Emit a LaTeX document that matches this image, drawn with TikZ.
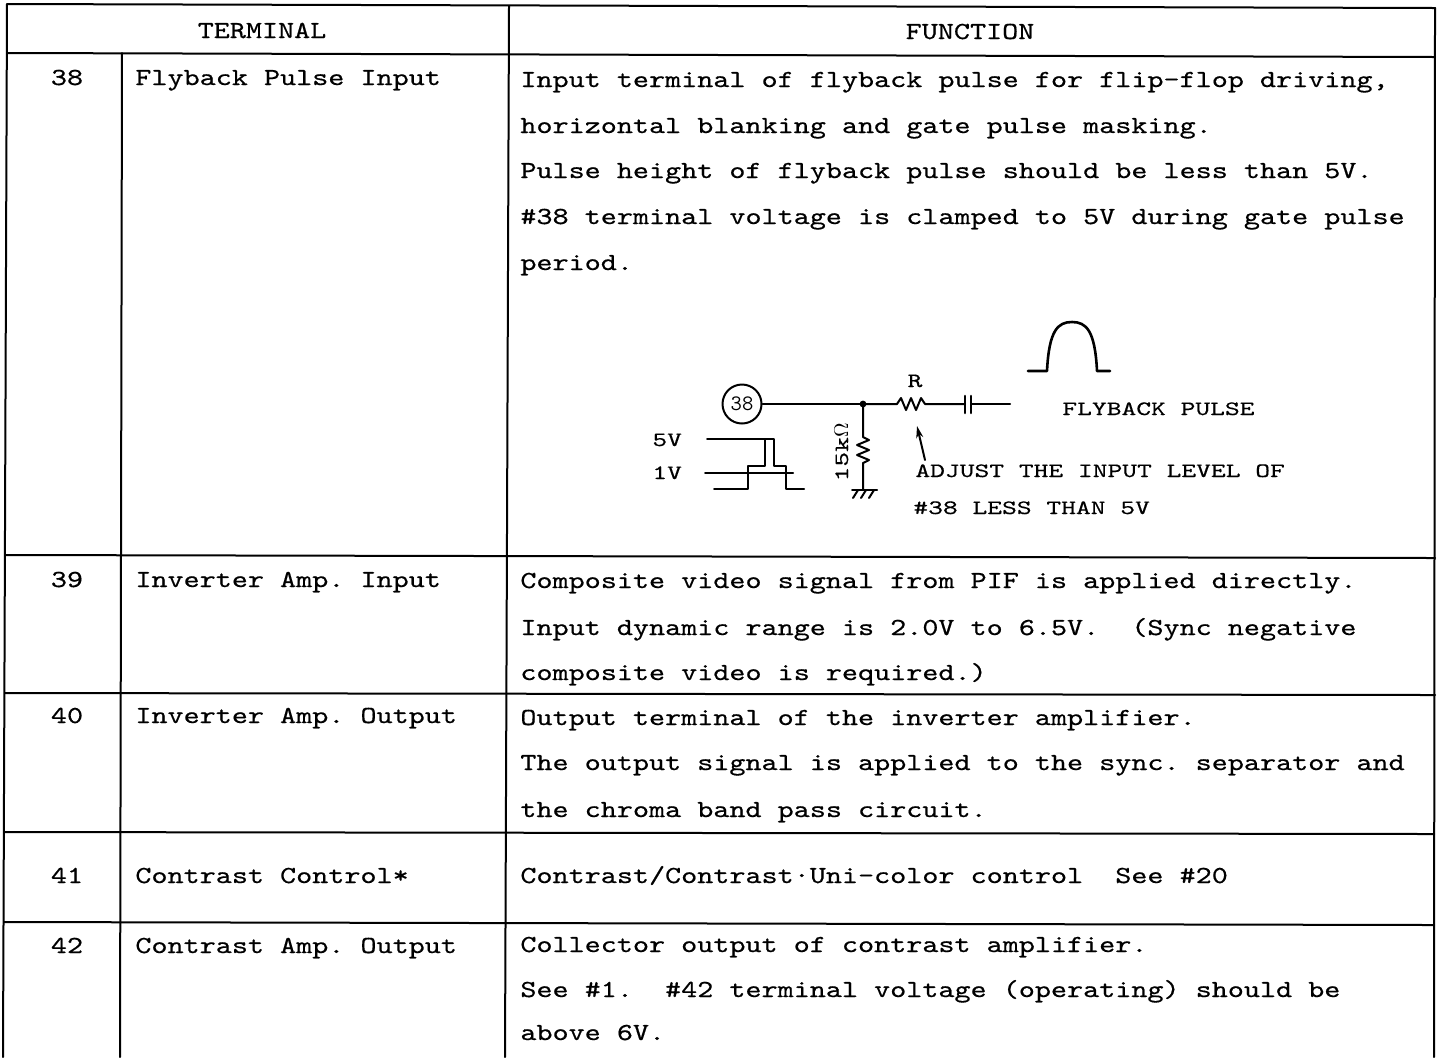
\documentclass[tikz,border=0pt]{standalone}
\usepackage{fontspec}
\newfontfamily\tw{lmmono10-regular.otf}[FakeStretch=1.25,FakeBold=0.5]
\newfontfamily\cf{lmmono10-regular.otf}[FakeStretch=1.38,FakeBold=0.4]
\usetikzlibrary{arrows.meta}
\frenchspacing
\begin{document}
\frenchspacing
\begin{tikzpicture}[x=0.5pt,y=-0.5pt,line cap=round,line join=round]
\tikzset{
  tl/.style={line width=1pt},
  wire/.style={line width=1pt},
  txt/.style={inner sep=0pt,anchor=base west,font=\tw\fontsize{12.25}{14}\selectfont\frenchspacing},
  num/.style={inner sep=0pt,anchor=base,font=\tw\fontsize{12.25}{14}\selectfont\frenchspacing},
  ctx/.style={inner sep=0pt,anchor=base west,font=\cf\fontsize{10.2}{12}\selectfont\frenchspacing},
}
\useasboundingbox[fill=white] (0,0) rectangle (1438,1057);
% table rules
\draw[tl] (7,4) -- (1435,8);
\draw[tl] (7,53) -- (1435,57);
\draw[tl] (6,555) -- (1435,558);
\draw[tl] (5,693) -- (1435,695);
\draw[tl] (4,832) -- (1434,834);
\draw[tl] (4,922) -- (1434,925);
\draw[tl] (7,4) -- (3,1057);
\draw[tl] (122,53) -- (120,1057);
\draw[tl] (509,6) -- (505,1057);
\draw[tl] (1435,8) -- (1434,1057);
% header
\node[num] (hterm) at (262,38) {TERMINAL};
\node[num] (hfunc) at (970,39) {FUNCTION};
% row 38
\node[num] (n38) at (67,85) {38};
\node[txt] (t38) at (135,85) {Flyback Pulse Input};
\node[txt] (f38a) at (520,87) {Input terminal of flyback pulse for flip-flop driving,};
\node[txt] (f38b) at (520,133) {horizontal blanking and gate pulse masking.};
\node[txt] (f38c) at (520,178) {Pulse height of flyback pulse should be less than 5V.};
\node[txt] (f38d) at (520,224) {\#38 terminal voltage is clamped to 5V during gate pulse};
\node[txt] (f38e) at (520,270) {period.};
% row 39
\node[num] (n39) at (67,587) {39};
\node[txt] (t39) at (135,587) {Inverter Amp. Input};
\node[txt] (f39a) at (520,588) {Composite video signal from PIF is applied directly.};
\node[txt] (f39b) at (520,635) {Input dynamic range is 2.0V to 6.5V.\ \ (Sync negative};
\node[txt] (f39c) at (520,680) {composite video is required.)};
% row 40
\node[num] (n40) at (67,723) {40};
\node[txt] (t40) at (135,723) {Inverter Amp. Output};
\node[txt] (f40a) at (520,725) {Output terminal of the inverter amplifier.};
\node[txt] (f40b) at (520,770) {The output signal is applied to the sync. separator and};
\node[txt] (f40c) at (520,817) {the chroma band pass circuit.};
% row 41
\node[num] (n41) at (67,883) {41};
\node[txt] (t41) at (135,883) {Contrast Control*};
\node[txt] (f41a) at (520,883) {Contrast/Contrast·Uni-color control\ \ See \#20};
% row 42
\node[num] (n42) at (67,953) {42};
\node[txt] (t42) at (135,953) {Contrast Amp. Output};
\node[txt] (f42a) at (520,952) {Collector output of contrast amplifier.};
\node[txt] (f42b) at (520,997) {See \#1.\ \ \#42 terminal voltage (operating) should be};
\node[txt] (f42c) at (520,1040) {above 6V.};
% circuit
\node[circle,draw,line width=1pt,minimum size=19.5pt,inner sep=0pt,
      font=\ttfamily\fontsize{11}{11}\selectfont] (c38) at (742,404) {38};
\coordinate (j) at (863,404);
\draw[wire] (c38.east) -- (j);
\fill (j) circle (1.7pt);
\draw[wire] (j) -- (897,404) -- (901,398) -- (906,410) -- (911,398) -- (916,410)
  -- (921,398) -- (925,404) -- (965,404);
\draw[line width=1.3pt] (965,396) -- (965,413);
\draw[line width=1.3pt] (971,396) -- (971,413);
\draw[wire] (971,404) -- (1010,404);
\draw[wire] (j) -- (863,437) -- (869,440) -- (857,445) -- (869,450) -- (857,455)
  -- (869,460) -- (863,463) -- (863,490);
\draw[wire] (852,490) -- (877,490);
\draw[wire] (858,490) -- (853,498);
\draw[wire] (866,490) -- (861,498);
\draw[wire] (874,490) -- (869,498);
\node[ctx,anchor=base,rotate=90] (r15) at (848,452) {15k$\Omega$};
\node[ctx,anchor=base] (rl) at (915,387) {R};
\draw[wire,-{Stealth[length=6pt,width=3.5pt]}] (925,460) -- (917,426);
\node[ctx] (adj1) at (915,477) {ADJUST THE INPUT LEVEL OF};
\node[ctx] (adj2) at (913,514) {\#38 LESS THAN 5V};
\node[ctx] (fbp) at (1062,415) {FLYBACK PULSE};
\node[ctx] (v5) at (652,446) {5V};
\node[ctx] (v1) at (652,479) {1V};
% input waveform
\draw[wire] (707,439) -- (765,439);
\draw[wire] (705,473) -- (793,473);
\draw[wire] (714,489) -- (748,489) -- (748,466) -- (765,466) -- (765,439) -- (774,439)
  -- (774,466) -- (786,466) -- (786,489) -- (804,489);
% flyback pulse
\draw[line width=1.3pt] (1028,371) -- (1047,371) .. controls (1049,330) and (1058,322) .. (1072,322)
  .. controls (1086,322) and (1095,330) .. (1097,371) -- (1110,371);
\end{tikzpicture}
\end{document}
